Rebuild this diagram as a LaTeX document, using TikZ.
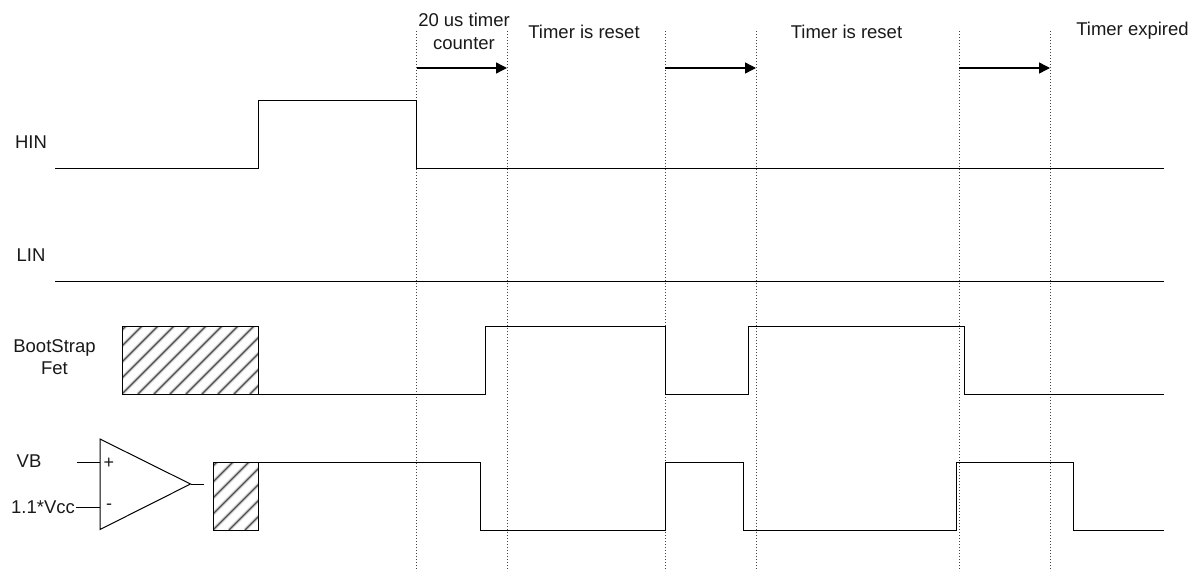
\documentclass[tikz,border=0pt]{standalone}
\usepackage{fontspec}
\setmainfont{Liberation Sans}
\usetikzlibrary{arrows.meta}
\tikzset{
  wave/.style={draw=black,line width=1pt,line join=miter},
  guide/.style={draw=black!75,line width=0.8pt,dash pattern=on 1pt off 2pt},
  span/.style={draw=black,line width=1.4pt,-{Triangle[length=11pt,width=11pt]}},
  lab/.style={inner sep=0pt,font=\fontsize{18.5}{22.5}\selectfont,align=center,text=black!90},
  hatchsoft/.style={draw=black!15,line width=3.6pt},
  hatchcore/.style={draw=black!70,line width=1.3pt}
}
\newcommand{\hatchbox}[4]{%
  \begin{scope}
    \clip (#1,#2) rectangle (#3,#4);
    \foreach \k in {-20,...,30} {
      \draw[hatchsoft] ({#1+\k*16},#4) -- ({#1+\k*16+100},#4-100);
    }
    \foreach \k in {-20,...,30} {
      \draw[hatchcore] ({#1+\k*16},#4) -- ({#1+\k*16+100},#4-100);
    }
  \end{scope}
  \draw[wave] (#1,#2) rectangle (#3,#4);
}
\begin{document}
\begin{tikzpicture}[x=1pt,y=-1pt]
\useasboundingbox (0,0) rectangle (1193,571);
% guides
\foreach \n/\x/\y in {a/416.5/31,b/507.5/31,c/665/31,d/756/31,e/959/31,f/1050/31}{
  \coordinate (g\n t) at (\x,\y);
  \coordinate (g\n b) at (\x,571);
  \draw[guide] (g\n t) -- (g\n b);
}
% arrows
\coordinate (a1) at (416.5,68); \coordinate (a2) at (507,68);
\coordinate (b1) at (665,68);   \coordinate (b2) at (756,68);
\coordinate (c1) at (959,68);   \coordinate (c2) at (1050,68);
\draw[span] (a1) -- (a2);
\draw[span] (b1) -- (b2);
\draw[span] (c1) -- (c2);
% hatches
\hatchbox{122}{326}{258.5}{394}
\hatchbox{213}{462}{258.5}{530}
% waves
\draw[wave] (55,168) -- (258.5,168) -- (258.5,100) -- (416.5,100) -- (416.5,168) -- (1164,168);
\draw[wave] (55,281) -- (1164,281);
\draw[wave] (258.5,394) -- (485,394) -- (485,326) -- (665,326) -- (665,394) -- (748,394) -- (748,326) -- (964,326) -- (964,394) -- (1164,394);
\draw[wave] (258.5,462) -- (480,462) -- (480,530) -- (665,530) -- (665,462) -- (743,462) -- (743,530) -- (956,530) -- (956,462) -- (1073,462) -- (1073,530) -- (1164,530);
% comparator
\coordinate (cA) at (100,439); \coordinate (cB) at (100,529.5); \coordinate (cC) at (190.5,484);
\draw[wave] (cA) -- (cC) -- (cB) -- cycle;
\coordinate (vbL) at (77,462); \coordinate (vbR) at (100,462);
\coordinate (vcL) at (76,507); \coordinate (vcR) at (100,507);
\coordinate (oL) at (190.5,484); \coordinate (oR) at (204,484);
\draw[wave] (vbL) -- (vbR);
\draw[wave] (vcL) -- (vcR);
\draw[wave] (oL) -- (oR);
\node[lab,font=\fontsize{18}{20}\selectfont] (plus) at (109,463) {+};
\node[lab,font=\fontsize{18}{20}\selectfont] (minus) at (109,507) {-};
% labels
\node[lab] (hin) at (31,142) {HIN};
\node[lab] (lin) at (31,255) {LIN};
\node[lab] (bs) at (54.5,357) {BootStrap\\Fet};
\node[lab] (vb) at (29,461) {VB};
\node[lab] (vcc) at (43,507) {1.1*Vcc};
\node[lab] (t1) at (464,31.5) {20 us timer\\counter};
\node[lab] (t2) at (584,32) {Timer is reset};
\node[lab] (t3) at (846.5,32) {Timer is reset};
\node[lab] (t4) at (1132.5,31) {Timer expired};
\end{tikzpicture}
\end{document}
